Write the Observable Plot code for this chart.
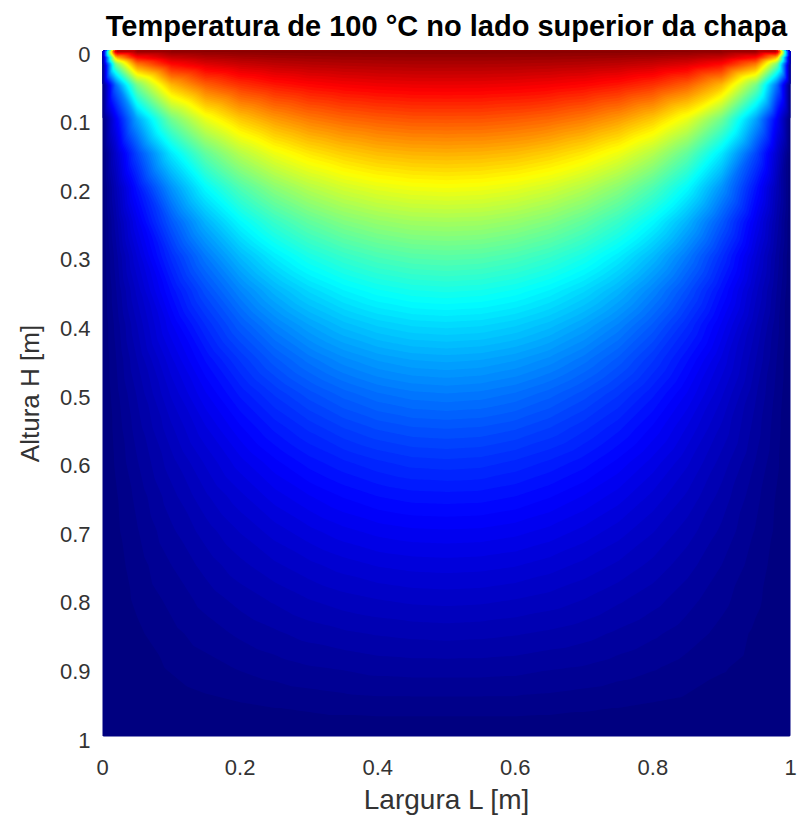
<!DOCTYPE html>
<html><head><meta charset="utf-8">
<script src="https://cdn.jsdelivr.net/npm/d3@7"></script>
<script src="https://cdn.jsdelivr.net/npm/@observablehq/plot@0.6"></script>
<style>body{margin:0;background:#fff;}</style>
</head><body><div id="chart"></div>
<script>
// Horizontal positions (Largura L [m]) of the sampled columns
const xs = [0, 0.02, 0.05, 0.1, 0.15, 0.2, 0.25, 0.3, 0.35, 0.4, 0.45, 0.5, 0.55, 0.6, 0.65, 0.7, 0.75, 0.8, 0.85, 0.9, 0.95, 0.98, 1];
// Depths (Altura H [m]) of the sampled rows, 0 = upper side of the plate
const hs = [0, 0.01, 0.02, 0.05, 0.1, 0.15, 0.2, 0.25, 0.3, 0.35, 0.4, 0.45, 0.5, 0.55, 0.6, 0.65, 0.7, 0.75, 0.8, 0.85, 0.9, 0.95, 1];
// Temperature [°C] read at each (row, column)
const temps = [
  [0,100,100,100,100,100,100,100,100,100,100,100,100,100,100,100,100,100,100,100,100,100,0],
  [0,70.5,87.4,93.6,95.6,96.6,97.2,97.5,97.8,97.9,98.0,98.0,98.0,97.9,97.8,97.5,97.2,96.6,95.6,93.6,87.4,70.5,0],
  [0,50.0,75.7,87.2,91.2,93.2,94.4,95.1,95.5,95.8,96.0,96.0,96.0,95.8,95.5,95.1,94.4,93.2,91.2,87.2,75.7,50.0,0],
  [0,24.1,49.7,70.0,78.7,83.3,86.0,87.7,88.8,89.5,89.9,90.0,89.9,89.5,88.8,87.7,86.0,83.3,78.7,70.0,49.7,24.1,0],
  [0,12.4,29.0,48.9,60.9,68.3,72.9,76.0,78.0,79.2,80.0,80.1,80.0,79.2,78.0,76.0,72.9,68.3,60.9,48.9,29.0,12.4,0],
  [0,8.1,19.7,35.8,47.5,55.7,61.4,65.2,67.8,69.6,70.5,70.8,70.5,69.6,67.8,65.2,61.4,55.7,47.5,35.8,19.7,8.1,0],
  [0,5.9,14.5,27.4,37.8,45.6,51.5,55.7,58.7,60.6,61.7,62.1,61.7,60.6,58.7,55.7,51.5,45.6,37.8,27.4,14.5,5.9,0],
  [0,4.6,11.3,21.6,30.5,37.6,43.2,47.4,50.5,52.5,53.7,54.0,53.7,52.5,50.5,47.4,43.2,37.6,30.5,21.6,11.3,4.6,0],
  [0,3.6,9.0,17.4,24.9,31.2,36.3,40.3,43.2,45.2,46.4,46.8,46.4,45.2,43.2,40.3,36.3,31.2,24.9,17.4,9.0,3.6,0],
  [0,3.0,7.3,14.3,20.6,26.0,30.6,34.2,36.9,38.8,39.9,40.3,39.9,38.8,36.9,34.2,30.6,26.0,20.6,14.3,7.3,3.0,0],
  [0,2.4,6.0,11.8,17.1,21.8,25.8,29.0,31.5,33.2,34.2,34.5,34.2,33.2,31.5,29.0,25.8,21.8,17.1,11.8,6.0,2.4,0],
  [0,2.0,5.0,9.8,14.2,18.2,21.7,24.5,26.7,28.2,29.1,29.4,29.1,28.2,26.7,24.5,21.7,18.2,14.2,9.8,5.0,2.0,0],
  [0,1.7,4.1,8.2,11.9,15.3,18.2,20.6,22.5,23.9,24.7,25.0,24.7,23.9,22.5,20.6,18.2,15.3,11.9,8.2,4.1,1.7,0],
  [0,1.4,3.5,6.8,9.9,12.8,15.3,17.3,19.0,20.2,20.9,21.1,20.9,20.2,19.0,17.3,15.3,12.8,9.9,6.8,3.5,1.4,0],
  [0,1.2,2.9,5.6,8.2,10.6,12.7,14.5,15.8,16.8,17.5,17.7,17.5,16.8,15.8,14.5,12.7,10.6,8.2,5.6,2.9,1.2,0],
  [0,0.9,2.3,4.6,6.8,8.7,10.5,11.9,13.1,14.0,14.5,14.6,14.5,14.0,13.1,11.9,10.5,8.7,6.8,4.6,2.3,0.9,0],
  [0,0.8,1.9,3.8,5.5,7.1,8.5,9.7,10.7,11.4,11.8,11.9,11.8,11.4,10.7,9.7,8.5,7.1,5.5,3.8,1.9,0.8,0],
  [0,0.6,1.5,3.0,4.4,5.7,6.8,7.7,8.5,9.1,9.4,9.5,9.4,9.1,8.5,7.7,6.8,5.7,4.4,3.0,1.5,0.6,0],
  [0,0.5,1.2,2.3,3.4,4.4,5.2,6.0,6.6,7.0,7.3,7.4,7.3,7.0,6.6,6.0,5.2,4.4,3.4,2.3,1.2,0.5,0],
  [0,0.3,0.8,1.7,2.5,3.2,3.8,4.4,4.8,5.1,5.3,5.4,5.3,5.1,4.8,4.4,3.8,3.2,2.5,1.7,0.8,0.3,0],
  [0,0.2,0.6,1.1,1.6,2.1,2.5,2.9,3.1,3.4,3.5,3.5,3.5,3.4,3.1,2.9,2.5,2.1,1.6,1.1,0.6,0.2,0],
  [0,0.1,0.3,0.5,0.8,1.0,1.2,1.4,1.6,1.7,1.7,1.7,1.7,1.7,1.6,1.4,1.2,1.0,0.8,0.5,0.3,0.1,0],
  [0,0,0,0,0,0,0,0,0,0,0,0,0,0,0,0,0,0,0,0,0,0,0]
];
// Contour levels (filled bands)
const levels = d3.range(0, 100, 1);
// Tick labels
const xTicks = [0, 0.2, 0.4, 0.6, 0.8, 1];
const yTicks = [0, 0.1, 0.2, 0.3, 0.4, 0.5, 0.6, 0.7, 0.8, 0.9, 1];
// Jet colour map
const jetStops = [0, 12.5, 37.5, 62.5, 87.5, 100];
const jetColors = ["#000080", "#0000ff", "#00ffff", "#ffff00", "#ff0000", "#800000"];
const titleText = "Temperatura de 100 °C no lado superior da chapa";
const xLabel = "Largura L [m]";
const yLabel = "Altura H [m]";

const points = [];
hs.forEach((h, i) => xs.forEach((x, j) => points.push({x, h, t: temps[i][j]})));

const font = "'Liberation Sans', Arial, Helvetica, sans-serif";
const fmt = d => String(d);
const chart = Plot.plot({
  width: 800, height: 825,
  marginTop: 50, marginBottom: 89, marginLeft: 102, marginRight: 10,
  style: {fontFamily: font, background: "#fff"},
  x: {domain: [0, 1]},
  y: {domain: [0, 1], reverse: true},
  color: {type: "linear", domain: jetStops, range: jetColors, interpolate: "rgb"},
  marks: [
    Plot.contour(points, {
      x: "x", y: "h", fill: "t", interpolate: "barycentric",
      thresholds: levels, x1: 0, y1: 0, x2: 1, y2: 1, pixelSize: 2, stroke: "none"
    }),
    Plot.axisX({ticks: xTicks, tickFormat: fmt, tickSize: 0, tickPadding: 23, fontSize: 22, fill: "#333", label: null}),
    Plot.axisY({ticks: yTicks, tickFormat: fmt, tickSize: 0, tickPadding: 12, fontSize: 22, fill: "#333", dy: 4, label: null}),
    Plot.text([titleText], {frameAnchor: "top", lineAnchor: "middle", textAnchor: "middle", dy: -24, dx: 0, fontSize: 29, fontWeight: "bold", fill: "#000"}),
    Plot.text([xLabel], {frameAnchor: "bottom", lineAnchor: "middle", textAnchor: "middle", dy: 64, fontSize: 28, fill: "#333"}),
    Plot.text([yLabel], {frameAnchor: "left", lineAnchor: "middle", textAnchor: "middle", dx: -72, rotate: -90, fontSize: 26, fill: "#333"})
  ]
});
document.getElementById("chart").appendChild(chart);
</script>
</body></html>
